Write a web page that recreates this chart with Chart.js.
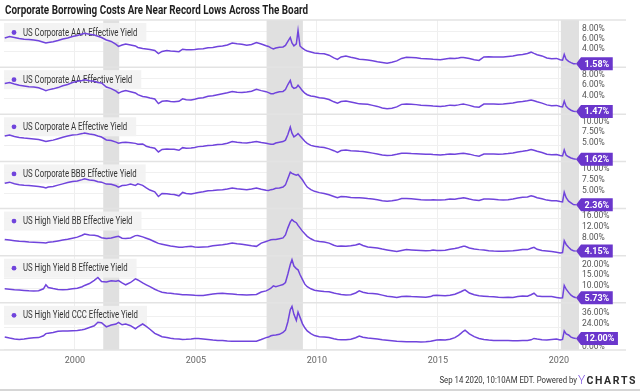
<!DOCTYPE html>
<html>
<head>
<meta charset="utf-8">
<script src="https://cdn.jsdelivr.net/npm/chart.js@4.4.1/dist/chart.umd.min.js"></script>
<style>
  html, body { margin: 0; padding: 0; background: #fff; }
  canvas { display: block; }
</style>
</head>
<body>
<canvas id="chart" width="640" height="392"></canvas>
<script>
// Effective yields (%), one row per year
const dates = [
  1997.1, 1997.3, 1997.5, 1997.7, 1997.9,
  1998.1, 1998.3, 1998.5, 1998.7, 1998.8, 1998.9,
  1999.1, 1999.3, 1999.5, 1999.7, 1999.9,
  2000.1, 2000.3, 2000.4, 2000.6, 2000.8, 2000.95,
  2001.1, 2001.3, 2001.5, 2001.7, 2001.8, 2001.95,
  2002.1, 2002.3, 2002.5, 2002.6, 2002.8, 2002.95,
  2003.1, 2003.3, 2003.45, 2003.6, 2003.8, 2003.95,
  2004.1, 2004.3, 2004.45, 2004.6, 2004.8, 2004.95,
  2005.1, 2005.3, 2005.5, 2005.7, 2005.9,
  2006.1, 2006.3, 2006.5, 2006.7, 2006.9,
  2007.1, 2007.3, 2007.5, 2007.7, 2007.9,
  2008.0, 2008.1, 2008.2, 2008.3, 2008.45, 2008.6, 2008.7, 2008.8, 2008.9, 2008.97,
  2009.05, 2009.15, 2009.22, 2009.3, 2009.4, 2009.5, 2009.6, 2009.75, 2009.9,
  2010.1, 2010.3, 2010.5, 2010.7, 2010.85,
  2011.0, 2011.2, 2011.4, 2011.6, 2011.75, 2011.9,
  2012.1, 2012.3, 2012.5, 2012.7, 2012.9,
  2013.1, 2013.3, 2013.5, 2013.7, 2013.9,
  2014.1, 2014.3, 2014.5, 2014.7, 2014.8, 2014.95,
  2015.1, 2015.3, 2015.5, 2015.7, 2015.85, 2015.95,
  2016.05, 2016.12, 2016.3, 2016.5, 2016.7, 2016.9,
  2017.1, 2017.3, 2017.5, 2017.7, 2017.9,
  2018.1, 2018.3, 2018.5, 2018.7, 2018.85, 2018.97,
  2019.1, 2019.3, 2019.5, 2019.7, 2019.9,
  2020.05, 2020.15, 2020.22, 2020.3, 2020.4, 2020.5, 2020.6, 2020.7
];

const aaa = [
  6.75, 7.05, 6.85, 6.65, 6.5,
  6.45, 6.35, 6.2, 5.9, 5.75, 5.85,
  6.0, 6.25, 6.55, 6.75, 7.05,
  7.25, 7.55, 7.7, 7.5, 7.35, 7.1,
  6.85, 6.35, 6.05, 5.45, 5.05, 5.35,
  5.55, 5.35, 5.15, 4.85, 4.65, 4.55,
  4.45, 4.25, 3.6, 4.05, 4.25, 4.15,
  4.1, 4.0, 4.5, 4.4, 4.4, 4.45,
  4.55, 4.6, 4.8, 4.85, 5.05,
  5.15, 5.35, 5.75, 5.6, 5.5,
  5.3, 5.45, 5.85, 5.55, 5.2,
  5.05, 4.75, 4.55, 4.75, 4.9, 4.95, 5.25, 6.05, 6.85, 5.75,
  5.15, 5.55, 8.25, 5.15, 4.7, 4.35, 4.15, 3.95, 3.75,
  3.65, 3.6, 3.3, 2.75, 2.45,
  2.95, 3.15, 2.9, 2.7, 2.5, 2.45,
  2.35, 2.2, 2.0, 1.85, 1.7,
  1.9, 2.15, 2.65, 2.9, 2.85,
  2.8, 2.65, 2.6, 2.55, 2.5, 2.45,
  2.4, 2.55, 2.7, 2.65, 2.75, 2.85,
  2.85, 2.8, 2.65, 2.4, 2.25, 2.95,
  3.0, 2.95, 2.95, 2.95, 3.05,
  3.15, 3.35, 3.45, 3.65, 3.9, 3.65,
  3.4, 3.15, 2.75, 2.6, 2.65,
  2.4, 2.3, 3.45, 2.45, 2.05, 1.8, 1.6, 1.58
];

const aa = [
  6.95, 7.15, 6.85, 6.6, 6.45,
  6.3, 6.25, 6.1, 5.75, 5.55, 5.7,
  5.9, 6.15, 6.5, 6.75, 7.15,
  7.4, 7.55, 7.7, 7.5, 7.4, 7.15,
  7.05, 6.25, 5.95, 5.45, 5.05, 5.4,
  5.55, 5.35, 5.1, 4.75, 4.4, 4.3,
  4.1, 3.9, 3.0, 3.45, 3.55, 3.4,
  3.35, 3.45, 3.95, 3.75, 3.7, 3.85,
  4.05, 4.15, 4.45, 4.55, 4.75,
  4.95, 5.15, 5.4, 5.25, 5.2,
  5.3, 5.45, 5.8, 5.55, 5.35,
  5.15, 4.95, 4.95, 5.15, 5.35, 5.4, 5.75, 6.75, 7.55, 6.35,
  6.0, 6.15, 6.6, 6.15, 5.55, 5.05, 4.75, 4.5, 4.4,
  4.15, 4.05, 3.8, 3.35, 3.1,
  3.4, 3.5, 3.3, 3.1, 2.95, 2.9,
  2.85, 2.65, 2.45, 2.15, 2.0,
  2.1, 2.35, 2.85, 2.9, 2.85,
  2.8, 2.7, 2.65, 2.6, 2.55, 2.5,
  2.45, 2.55, 2.7, 2.65, 2.75, 2.85,
  2.9, 2.85, 2.65, 2.4, 2.3, 2.9,
  2.9, 2.9, 2.85, 2.9, 3.0,
  3.1, 3.3, 3.4, 3.55, 3.7, 3.55,
  3.35, 3.1, 2.75, 2.6, 2.65,
  2.45, 2.35, 3.5, 2.45, 2.0, 1.7, 1.5, 1.47
];

const singleA = [
  7.3, 7.55, 7.2, 6.95, 6.8,
  6.7, 6.6, 6.45, 6.15, 5.95, 6.1,
  6.3, 6.65, 7.0, 7.3, 7.55,
  7.65, 7.9, 8.05, 7.8, 7.6, 7.3,
  7.05, 6.35, 6.2, 5.8, 5.55, 5.7,
  5.75, 5.65, 5.5, 5.3, 5.35, 4.8,
  4.55, 4.3, 3.4, 4.0, 4.1, 4.05,
  4.05, 3.8, 4.45, 4.3, 4.35, 4.5,
  4.7, 4.8, 4.95, 5.05, 5.2,
  5.3, 5.55, 5.95, 5.75, 5.65,
  5.6, 5.75, 5.95, 5.7, 5.55,
  5.4, 5.3, 5.3, 5.6, 5.8, 5.95, 6.3, 7.7, 9.5, 8.0,
  7.1, 7.5, 7.9, 7.4, 6.7, 6.0, 5.5, 5.0, 4.8,
  4.6, 4.5, 4.15, 3.7, 3.3,
  3.75, 3.85, 3.7, 3.65, 3.55, 3.5,
  3.3, 3.1, 2.9, 2.65, 2.5,
  2.6, 2.8, 3.05, 3.1, 3.0,
  2.95, 2.9, 2.85, 2.8, 2.75, 2.7,
  2.65, 2.75, 2.9, 2.85, 2.95, 3.0,
  3.05, 3.0, 2.85, 2.55, 2.35, 2.9,
  2.9, 2.9, 2.85, 2.9, 3.0,
  3.15, 3.4, 3.55, 3.75, 4.0, 3.8,
  3.55, 3.25, 2.85, 2.7, 2.75,
  2.5, 2.4, 3.9, 2.6, 2.2, 1.9, 1.7, 1.62
];

const bbb = [
  7.4, 7.65, 7.3, 7.05, 6.9,
  6.85, 6.75, 6.65, 6.45, 6.3, 6.5,
  6.65, 6.95, 7.25, 7.55, 7.8,
  7.9, 8.25, 8.45, 8.15, 8.05, 7.75,
  7.65, 7.2, 7.15, 6.8, 6.5, 6.85,
  6.9, 7.2, 6.9, 7.25, 6.9, 6.3,
  5.8, 5.4, 4.3, 5.0, 4.95, 4.8,
  4.75, 4.45, 5.25, 5.0, 4.9, 5.05,
  5.25, 5.4, 5.65, 5.7, 5.8,
  5.85, 6.05, 6.3, 6.1, 6.0,
  5.9, 6.05, 6.3, 6.0, 5.75,
  5.7, 5.9, 6.0, 6.2, 6.3, 6.5, 7.0, 8.5, 10.0, 9.7,
  9.5, 9.3, 9.45, 8.9, 8.2, 7.3, 6.5, 5.9, 5.5,
  5.2, 5.0, 4.7, 4.3, 4.0,
  4.3, 4.25, 4.05, 4.0, 4.0, 3.95,
  3.8, 3.7, 3.55, 3.3, 3.2,
  3.3, 3.45, 3.8, 3.85, 3.75,
  3.65, 3.55, 3.5, 3.5, 3.55, 3.5,
  3.45, 3.55, 3.7, 3.65, 3.8, 3.9,
  4.0, 3.95, 3.7, 3.45, 3.35, 3.7,
  3.7, 3.65, 3.55, 3.5, 3.55,
  3.7, 3.95, 4.1, 4.2, 4.45, 4.3,
  4.0, 3.75, 3.45, 3.3, 3.3,
  3.1, 3.05, 5.3, 4.0, 3.2, 2.8, 2.4, 2.36
];

const hyBB = [
  8.4, 8.2, 8.0, 7.8, 7.65,
  7.5, 7.4, 7.3, 7.2, 7.15, 7.4,
  7.6, 7.9, 8.2, 8.5, 8.9,
  9.3, 10.0, 10.45, 10.1, 10.0, 9.7,
  9.1, 8.8, 9.0, 9.4, 9.6, 8.9,
  8.75, 9.0, 9.85, 9.9, 9.4, 8.9,
  8.4, 7.6, 7.0, 6.7, 6.3, 6.0,
  5.85, 5.6, 5.55, 5.8, 5.9, 5.7,
  5.6, 5.7, 5.8, 6.1, 6.3,
  6.5, 6.8, 7.15, 6.9, 6.7,
  6.4, 6.1, 5.9, 7.1, 7.7,
  8.0, 8.3, 8.4, 8.4, 8.7, 9.0, 10.1, 12.7, 14.9, 15.75,
  15.1, 14.6, 13.6, 12.7, 11.5, 10.5, 9.6, 8.7, 8.0,
  7.7, 7.5, 7.1, 6.3, 5.9,
  6.0, 5.95, 6.1, 6.4, 6.8, 6.2,
  5.7, 5.5, 5.3, 4.9, 4.6,
  4.3, 4.0, 4.4, 4.7, 4.6,
  4.5, 4.4, 4.3, 4.4, 4.6, 4.35,
  4.4, 4.5, 4.8, 5.1, 5.4, 5.7,
  5.9, 5.9, 5.3, 4.9, 4.7, 4.6,
  4.3, 4.15, 4.1, 4.1, 4.2,
  4.3, 4.5, 4.7, 4.7, 5.2, 5.55,
  4.8, 4.4, 4.2, 4.0, 3.7,
  3.5, 3.6, 8.0, 6.6, 5.55, 4.7, 4.3, 4.15
];

const hyB = [
  10.0, 9.8, 9.55, 9.4, 9.2,
  9.05, 9.0, 9.05, 10.0, 11.9, 10.6,
  10.1, 9.7, 9.5, 9.7, 10.0,
  10.3, 11.0, 11.6, 12.5, 14.0, 15.4,
  13.5, 13.2, 13.8, 13.6, 13.9, 12.8,
  11.9, 13.0, 14.7, 14.2, 12.8, 11.9,
  11.0, 9.8, 9.0, 8.4, 8.0, 7.9,
  7.6, 7.4, 7.2, 7.2, 7.1, 6.9,
  6.8, 6.85, 7.2, 7.5, 7.8,
  7.9, 7.7, 7.5, 7.3, 7.2,
  7.1, 7.2, 7.3, 8.5, 9.0,
  9.6, 10.3, 11.4, 11.0, 11.5, 12.0, 13.0, 17.0, 21.5, 23.8,
  20.8, 19.6, 19.0, 16.8, 14.5, 12.2, 11.0, 10.0, 9.3,
  9.0, 8.7, 8.6, 8.0, 7.6,
  7.3, 7.1, 7.2, 8.0, 9.0, 8.4,
  7.9, 7.8, 7.5, 7.0, 6.5,
  6.2, 5.9, 6.3, 6.5, 6.3,
  6.2, 6.1, 6.0, 6.3, 6.8, 6.9,
  6.8, 6.7, 6.9, 7.4, 8.1, 8.6,
  9.2, 9.5, 8.0, 7.2, 6.7, 6.5,
  6.3, 6.2, 6.0, 5.9, 6.0,
  5.9, 6.3, 6.6, 6.5, 7.2, 7.9,
  6.6, 6.3, 6.3, 6.3, 5.9,
  5.6, 5.7, 11.6, 9.8, 8.3, 7.0, 6.2, 5.73
];

const hyCCC = [
  13.6, 12.5, 11.6, 11.0, 11.5,
  12.3, 12.8, 13.0, 15.0, 17.3, 17.8,
  18.5, 19.8, 20.2, 20.0, 20.4,
  20.6, 21.4, 22.0, 23.8, 25.7, 29.4,
  29.0, 24.5, 26.5, 27.6, 29.4, 26.8,
  27.6, 25.8, 22.5, 24.5, 27.6, 25.0,
  22.0, 17.5, 15.8, 14.0, 13.0, 12.3,
  11.8, 11.4, 11.0, 11.2, 11.6, 12.0,
  12.0, 11.6, 11.0, 10.4, 10.0,
  9.8, 9.4, 9.2, 9.2, 9.2,
  9.2, 9.2, 9.2, 11.0, 13.0,
  13.6, 15.0, 15.6, 15.8, 16.5, 18.5, 21.0, 30.0, 43.0, 46.6,
  38.0, 31.5, 40.4, 35.0, 28.0, 23.5, 20.2, 17.2, 15.2,
  14.0, 13.6, 13.0, 11.8, 11.0,
  10.8, 10.6, 11.2, 12.8, 14.7, 13.4,
  12.6, 12.1, 11.6, 10.8, 10.2,
  9.6, 9.0, 8.8, 8.6, 8.5,
  8.5, 8.4, 8.5, 9.0, 9.6, 10.4,
  10.6, 10.5, 11.2, 13.0, 15.5, 17.5,
  19.8, 20.9, 17.0, 14.0, 12.0, 11.0,
  10.4, 10.0, 9.9, 10.0, 9.9,
  9.6, 9.7, 9.8, 9.9, 10.6, 12.1,
  11.4, 10.8, 10.5, 11.0, 11.6,
  10.4, 11.0, 20.2, 17.0, 15.8, 13.5, 12.5, 12.0
];

const seriesNames = [
  'US Corporate AAA Effective Yield',
  'US Corporate AA Effective Yield',
  'US Corporate A Effective Yield',
  'US Corporate BBB Effective Yield',
  'US High Yield BB Effective Yield',
  'US High Yield B Effective Yield',
  'US High Yield CCC Effective Yield'
];
const seriesValues = [aaa, aa, singleA, bbb, hyBB, hyB, hyCCC];

// visible tick labels per panel and the panel ranges
const yTicks = [[8, 6, 4], [8, 6, 4], [10, 7.5, 5], [10, 7.5, 5], [16, 12, 8], [20, 15, 10], [36, 24, 0]];
const yMin = [0.9, 0.9, 1.06, 1.47, 2.46, 3.33, -0.3];
const yMax = [10.35, 10.17, 12.65, 12.5, 19.8, 25.7, 50.3];
const xTicks = [2000, 2005, 2010, 2015, 2020];

// recessions (shaded)
const recessionStart = [2001.17, 2007.92, 2020.08];
const recessionEnd = [2001.83, 2009.42, 2020.83];

const LINE = '#7044dc';
const BADGE = '#6a36cc';

const scales = {
  x: {
    type: 'linear', position: 'bottom', min: 1997.07, max: 2020.83,
    grid: { color: '#efefef', drawTicks: false },
    border: { display: false },
    ticks: { color: '#666', font: { family: 'Roboto', size: 9 }, padding: 5, maxRotation: 0, autoSkip: false, callback: v => String(v) },
    afterBuildTicks: s => { s.ticks = xTicks.map(v => ({ value: v })); },
    afterFit: s => { s.height = 15; }
  }
};
seriesNames.forEach((name, i) => {
  scales['y' + i] = {
    type: 'linear', position: 'right', stack: 'panels', stackWeight: 1,
    min: yMin[i], max: yMax[i],
    grid: { color: '#f0f0f0', drawTicks: false },
    border: { display: false },
    ticks: {
      color: '#555', font: { family: 'Roboto', size: 8.5 }, padding: 3, labelOffset: -3,
      autoSkip: false,
      callback: v => v.toFixed(2) + '%'
    },
    afterBuildTicks: s => { s.ticks = yTicks[i].map(v => ({ value: v })); },
    afterFit: s => { s.width = 58; }
  };
});

function drawSqueezed(ctx, text, x, y, sx) {
  ctx.save();
  ctx.translate(x, y);
  ctx.scale(sx, 1);
  ctx.fillText(text, 0, 0);
  ctx.restore();
}

const decor = {
  id: 'decor',
  beforeDatasetsDraw(chart) {
    const { ctx, chartArea: a, scales: { x } } = chart;
    ctx.save();
    // recession bands
    ctx.fillStyle = '#e0e0e0';
    recessionStart.forEach((s, k) => {
      const l = Math.max(a.left, x.getPixelForValue(s));
      const r = Math.min(a.right, x.getPixelForValue(recessionEnd[k]));
      ctx.fillRect(l, a.top, r - l, a.bottom - a.top);
    });
    // panel separators
    ctx.strokeStyle = '#e3e3e3';
    ctx.lineWidth = 1.5;
    const edges = seriesNames.map((n, i) => chart.scales['y' + i].top);
    edges.push(a.bottom);
    edges.forEach(y => {
      ctx.beginPath(); ctx.moveTo(0, y); ctx.lineTo(626, y); ctx.stroke();
    });
    // panel labels
    ctx.font = '10px Roboto';
    ctx.textBaseline = 'middle';
    seriesNames.forEach((name, i) => {
      const s = chart.scales['y' + i];
      const w = ctx.measureText(name).width * 0.78;
      const top = s.top + 3;
      ctx.fillStyle = 'rgba(242,242,242,0.9)';
      ctx.fillRect(a.left, top, w + 28, 19);
      ctx.fillStyle = LINE;
      ctx.beginPath(); ctx.arc(a.left + 10, top + 9.5, 2.4, 0, Math.PI * 2); ctx.fill();
      ctx.fillStyle = '#333';
      drawSqueezed(ctx, name, a.left + 19, top + 10, 0.78);
    });
    ctx.restore();
  },
  afterDraw(chart) {
    const { ctx, chartArea: a } = chart;
    ctx.save();
    // last value badges
    ctx.font = 'bold 9px Roboto';
    ctx.textBaseline = 'middle';
    chart.data.datasets.forEach((ds, i) => {
      const s = chart.scales['y' + i];
      const v = ds.data[ds.data.length - 1].y;
      const y = s.getPixelForValue(v);
      const txt = v.toFixed(2) + '%';
      const w = ctx.measureText(txt).width;
      const x0 = a.right + 2;
      ctx.fillStyle = BADGE;
      ctx.beginPath();
      ctx.moveTo(a.right - 3, y);
      ctx.lineTo(x0, y - 6.5);
      ctx.lineTo(x0 + w + 7, y - 6.5);
      ctx.lineTo(x0 + w + 7, y + 6.5);
      ctx.lineTo(x0, y + 6.5);
      ctx.closePath();
      ctx.fill();
      ctx.fillStyle = '#fff';
      ctx.fillText(txt, x0 + 3.5, y + 0.5);
    });
    // title
    ctx.fillStyle = '#1f1f1f';
    ctx.font = 'bold 13px Roboto';
    const title = 'Corporate Borrowing Costs Are Near Record Lows Across The Board';
    drawSqueezed(ctx, title, 5, 10.5, 303 / ctx.measureText(title).width);
    // footer
    ctx.font = '9.5px Roboto';
    ctx.fillStyle = '#333';
    ctx.textAlign = 'right';
    drawSqueezed(ctx, 'Sep 14 2020, 10:10AM EDT. Powered by', 577, 381, 0.82);
    ctx.textAlign = 'left';
    ctx.fillStyle = '#7a4de0';
    ctx.font = '300 12px Roboto';
    ctx.fillText('Y', 578, 381);
    ctx.fillStyle = '#2b2b2b';
    ctx.font = 'bold 10.5px Roboto';
    let cx = 586.5;
    for (const ch of 'CHARTS') {
      ctx.fillText(ch, cx, 381);
      cx += ctx.measureText(ch).width + 1.6;
    }
    ctx.strokeStyle = '#d6d6d6';
    ctx.lineWidth = 2;
    ctx.beginPath(); ctx.moveTo(0, 390); ctx.lineTo(640, 390); ctx.stroke();
    ctx.restore();
  }
};

new Chart(document.getElementById('chart'), {
  type: 'line',
  data: {
    datasets: seriesValues.map((vals, i) => ({
      label: seriesNames[i],
      data: dates.map((d, j) => ({ x: d, y: vals[j] })),
      yAxisID: 'y' + i,
      borderColor: LINE,
      borderWidth: 1.5,
      pointRadius: 0,
      tension: 0
    }))
  },
  options: {
    responsive: false,
    animation: false,
    devicePixelRatio: 1,
    layout: { padding: { top: 20, left: 4, right: 3, bottom: 27 } },
    plugins: { legend: { display: false }, tooltip: { enabled: false }, title: { display: false } },
    scales
  },
  plugins: [decor]
});
</script>
</body>
</html>
